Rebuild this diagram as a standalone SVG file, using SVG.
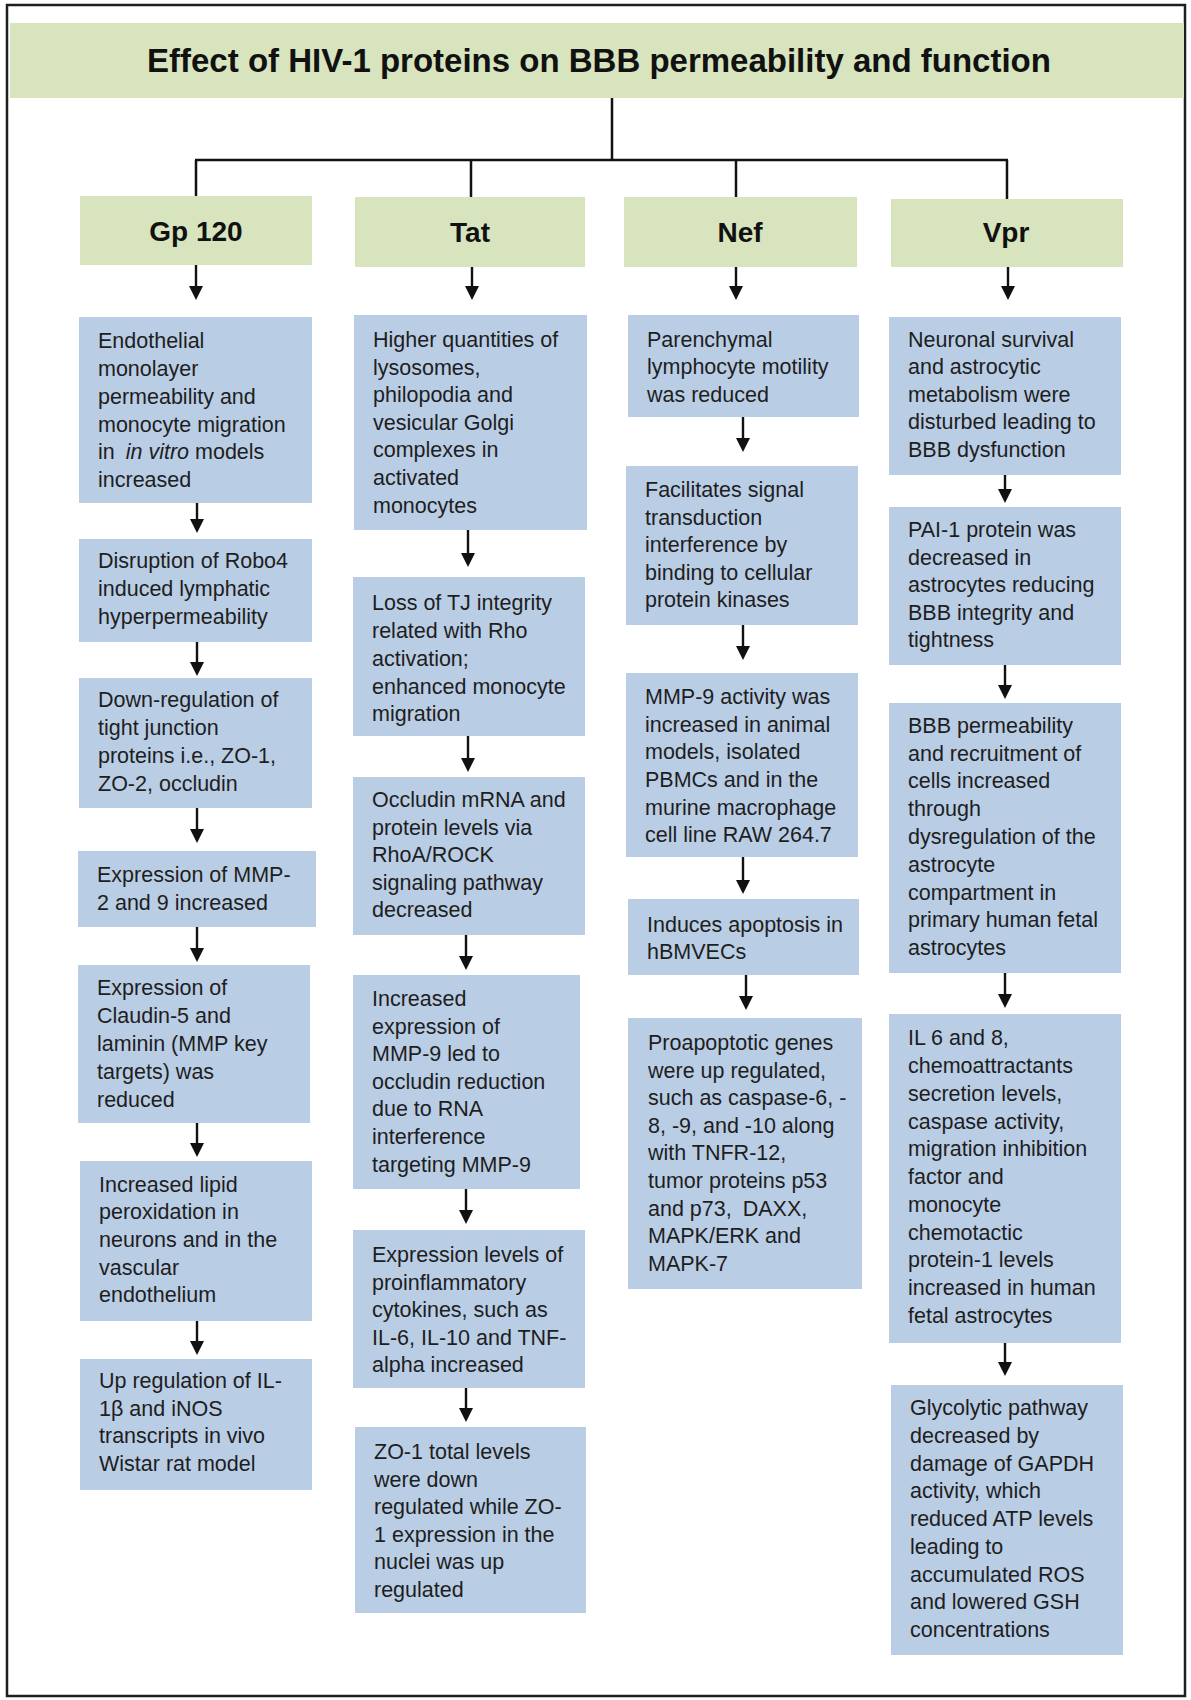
<svg xmlns="http://www.w3.org/2000/svg" width="1191" height="1700" viewBox="0 0 1191 1700">
<style>
.frame{fill:#ffffff;stroke:#1e1e1e;stroke-width:2.5}
.green{fill:#d7e4bd}
.blue{fill:#b9cde5}
.title{font-family:"Liberation Sans",Arial,sans-serif;font-weight:bold;font-size:33px;fill:#111;text-anchor:middle}
.head{font-family:"Liberation Sans",Arial,sans-serif;font-weight:bold;font-size:28px;fill:#111;text-anchor:middle}
.body{font-family:"Liberation Sans",Arial,sans-serif;font-size:21.5px;fill:#1e1e1e}
.tree{fill:none;stroke:#111;stroke-width:2.5}
.arr{fill:none;stroke:#111;stroke-width:2.4;marker-end:url(#ah)}
</style>
<defs>
<marker id="ah" markerUnits="userSpaceOnUse" markerWidth="14" markerHeight="14" refX="4" refY="7" orient="auto">
<path d="M0,0 L14,7 L0,14 z" fill="#111"/>
</marker>
</defs>
<rect class="frame" x="7" y="5" width="1178" height="1691"/>
<g id="title">
<rect class="green" x="10" y="23" width="1174" height="75"/>
<text class="title" x="599" y="72">Effect of HIV-1 proteins on BBB permeability and function</text>
</g>
<g id="connectors">
<path class="tree" d="M612,98 V160 M195,160 H1008 M196,160 V196 M471,160 V197 M736,160 V197 M1007,160 V199"/>
<path class="arr" d="M196,265 V290"/>
<path class="arr" d="M472,267 V290"/>
<path class="arr" d="M736,267 V290"/>
<path class="arr" d="M1008,267 V290"/>
<path class="arr" d="M197,503 V523"/>
<path class="arr" d="M197,642 V666"/>
<path class="arr" d="M197,808 V833"/>
<path class="arr" d="M197,927 V952"/>
<path class="arr" d="M197,1123 V1147"/>
<path class="arr" d="M197,1321 V1345"/>
<path class="arr" d="M468,530 V557"/>
<path class="arr" d="M468,736 V762"/>
<path class="arr" d="M466,935 V960"/>
<path class="arr" d="M466,1189 V1214"/>
<path class="arr" d="M466,1388 V1412"/>
<path class="arr" d="M743,417 V442"/>
<path class="arr" d="M743,625 V650"/>
<path class="arr" d="M743,857 V884"/>
<path class="arr" d="M746,975 V1000"/>
<path class="arr" d="M1005,475 V493"/>
<path class="arr" d="M1005,665 V689"/>
<path class="arr" d="M1005,973 V998"/>
<path class="arr" d="M1005,1343 V1366"/>
</g>
<g id="gp120">
<rect class="green" x="80" y="196" width="232" height="69"/>
<text class="head" x="196" y="241">Gp 120</text>
</g>
<g id="tat">
<rect class="green" x="355" y="197" width="230" height="70"/>
<text class="head" x="470" y="242">Tat</text>
</g>
<g id="nef">
<rect class="green" x="624" y="197" width="233" height="70"/>
<text class="head" x="740" y="242">Nef</text>
</g>
<g id="vpr">
<rect class="green" x="891" y="199" width="232" height="68"/>
<text class="head" x="1006" y="242">Vpr</text>
</g>
<g id="gp1">
<rect class="blue" x="79" y="317" width="233" height="186"/>
<text class="body"><tspan x="98" y="348">Endothelial</tspan><tspan x="98" y="376">monolayer</tspan><tspan x="98" y="404">permeability and</tspan><tspan x="98" y="432">monocyte migration</tspan><tspan x="98" y="459">in</tspan><tspan dx="11" font-style="italic">in vitro</tspan><tspan> models</tspan><tspan x="98" y="487">increased</tspan></text>
</g>
<g id="gp2">
<rect class="blue" x="79" y="539" width="233" height="103"/>
<text class="body"><tspan x="98" y="568">Disruption of Robo4</tspan><tspan x="98" y="596">induced lymphatic</tspan><tspan x="98" y="624">hyperpermeability</tspan></text>
</g>
<g id="gp3">
<rect class="blue" x="79" y="678" width="233" height="130"/>
<text class="body"><tspan x="98" y="707">Down-regulation of</tspan><tspan x="98" y="735">tight junction</tspan><tspan x="98" y="763">proteins i.e., ZO-1,</tspan><tspan x="98" y="791">ZO-2, occludin</tspan></text>
</g>
<g id="gp4">
<rect class="blue" x="78" y="851" width="238" height="76"/>
<text class="body"><tspan x="97" y="882">Expression of MMP-</tspan><tspan x="97" y="910">2 and 9 increased</tspan></text>
</g>
<g id="gp5">
<rect class="blue" x="78" y="965" width="232" height="158"/>
<text class="body"><tspan x="97" y="995">Expression of</tspan><tspan x="97" y="1023">Claudin-5 and</tspan><tspan x="97" y="1051">laminin (MMP key</tspan><tspan x="97" y="1079">targets) was</tspan><tspan x="97" y="1107">reduced</tspan></text>
</g>
<g id="gp6">
<rect class="blue" x="80" y="1161" width="232" height="160"/>
<text class="body"><tspan x="99" y="1192">Increased lipid</tspan><tspan x="99" y="1219">peroxidation in</tspan><tspan x="99" y="1247">neurons and in the</tspan><tspan x="99" y="1275">vascular</tspan><tspan x="99" y="1302">endothelium</tspan></text>
</g>
<g id="gp7">
<rect class="blue" x="80" y="1359" width="232" height="131"/>
<text class="body"><tspan x="99" y="1388">Up regulation of IL-</tspan><tspan x="99" y="1416">1β and iNOS</tspan><tspan x="99" y="1443">transcripts in vivo</tspan><tspan x="99" y="1471">Wistar rat model</tspan></text>
</g>
<g id="tat1">
<rect class="blue" x="354" y="315" width="233" height="215"/>
<text class="body"><tspan x="373" y="347">Higher quantities of</tspan><tspan x="373" y="375">lysosomes,</tspan><tspan x="373" y="402">philopodia and</tspan><tspan x="373" y="430">vesicular Golgi</tspan><tspan x="373" y="457">complexes in</tspan><tspan x="373" y="485">activated</tspan><tspan x="373" y="513">monocytes</tspan></text>
</g>
<g id="tat2">
<rect class="blue" x="353" y="577" width="232" height="159"/>
<text class="body"><tspan x="372" y="610">Loss of TJ integrity</tspan><tspan x="372" y="638">related with Rho</tspan><tspan x="372" y="666">activation;</tspan><tspan x="372" y="694">enhanced monocyte</tspan><tspan x="372" y="721">migration</tspan></text>
</g>
<g id="tat3">
<rect class="blue" x="353" y="777" width="232" height="158"/>
<text class="body"><tspan x="372" y="807">Occludin mRNA and</tspan><tspan x="372" y="835">protein levels via</tspan><tspan x="372" y="862">RhoA/ROCK</tspan><tspan x="372" y="890">signaling pathway</tspan><tspan x="372" y="917">decreased</tspan></text>
</g>
<g id="tat4">
<rect class="blue" x="353" y="975" width="227" height="214"/>
<text class="body"><tspan x="372" y="1006">Increased</tspan><tspan x="372" y="1034">expression of</tspan><tspan x="372" y="1061">MMP-9 led to</tspan><tspan x="372" y="1089">occludin reduction</tspan><tspan x="372" y="1116">due to RNA</tspan><tspan x="372" y="1144">interference</tspan><tspan x="372" y="1172">targeting MMP-9</tspan></text>
</g>
<g id="tat5">
<rect class="blue" x="353" y="1230" width="232" height="158"/>
<text class="body"><tspan x="372" y="1262">Expression levels of</tspan><tspan x="372" y="1290">proinflammatory</tspan><tspan x="372" y="1317">cytokines, such as</tspan><tspan x="372" y="1345">IL-6, IL-10 and TNF-</tspan><tspan x="372" y="1372">alpha increased</tspan></text>
</g>
<g id="tat6">
<rect class="blue" x="355" y="1427" width="231" height="186"/>
<text class="body"><tspan x="374" y="1459">ZO-1 total levels</tspan><tspan x="374" y="1487">were down</tspan><tspan x="374" y="1514">regulated while ZO-</tspan><tspan x="374" y="1542">1 expression in the</tspan><tspan x="374" y="1569">nuclei was up</tspan><tspan x="374" y="1597">regulated</tspan></text>
</g>
<g id="nef1">
<rect class="blue" x="628" y="315" width="231" height="102"/>
<text class="body"><tspan x="647" y="347">Parenchymal</tspan><tspan x="647" y="374">lymphocyte motility</tspan><tspan x="647" y="402">was reduced</tspan></text>
</g>
<g id="nef2">
<rect class="blue" x="626" y="466" width="232" height="159"/>
<text class="body"><tspan x="645" y="497">Facilitates signal</tspan><tspan x="645" y="525">transduction</tspan><tspan x="645" y="552">interference by</tspan><tspan x="645" y="580">binding to cellular</tspan><tspan x="645" y="607">protein kinases</tspan></text>
</g>
<g id="nef3">
<rect class="blue" x="626" y="673" width="232" height="184"/>
<text class="body"><tspan x="645" y="704">MMP-9 activity was</tspan><tspan x="645" y="732">increased in animal</tspan><tspan x="645" y="759">models, isolated</tspan><tspan x="645" y="787">PBMCs and in the</tspan><tspan x="645" y="815">murine macrophage</tspan><tspan x="645" y="842">cell line RAW 264.7</tspan></text>
</g>
<g id="nef4">
<rect class="blue" x="628" y="899" width="231" height="76"/>
<text class="body"><tspan x="647" y="932">Induces apoptosis in</tspan><tspan x="647" y="959">hBMVECs</tspan></text>
</g>
<g id="nef5">
<rect class="blue" x="628" y="1018" width="234" height="271"/>
<text class="body"><tspan x="648" y="1050">Proapoptotic genes</tspan><tspan x="648" y="1078">were up regulated,</tspan><tspan x="648" y="1105">such as caspase-6, -</tspan><tspan x="648" y="1133">8, -9, and -10 along</tspan><tspan x="648" y="1160">with TNFR-12,</tspan><tspan x="648" y="1188">tumor proteins p53</tspan><tspan x="648" y="1216">and p73,</tspan><tspan dx="11">DAXX,</tspan><tspan x="648" y="1243">MAPK/ERK and</tspan><tspan x="648" y="1271">MAPK-7</tspan></text>
</g>
<g id="vpr1">
<rect class="blue" x="889" y="317" width="232" height="158"/>
<text class="body"><tspan x="908" y="347">Neuronal survival</tspan><tspan x="908" y="374">and astrocytic</tspan><tspan x="908" y="402">metabolism were</tspan><tspan x="908" y="429">disturbed leading to</tspan><tspan x="908" y="457">BBB dysfunction</tspan></text>
</g>
<g id="vpr2">
<rect class="blue" x="889" y="507" width="232" height="158"/>
<text class="body"><tspan x="908" y="537">PAI-1 protein was</tspan><tspan x="908" y="565">decreased in</tspan><tspan x="908" y="592">astrocytes reducing</tspan><tspan x="908" y="620">BBB integrity and</tspan><tspan x="908" y="647">tightness</tspan></text>
</g>
<g id="vpr3">
<rect class="blue" x="889" y="703" width="232" height="270"/>
<text class="body"><tspan x="908" y="733">BBB permeability</tspan><tspan x="908" y="761">and recruitment of</tspan><tspan x="908" y="788">cells increased</tspan><tspan x="908" y="816">through</tspan><tspan x="908" y="844">dysregulation of the</tspan><tspan x="908" y="872">astrocyte</tspan><tspan x="908" y="900">compartment in</tspan><tspan x="908" y="927">primary human fetal</tspan><tspan x="908" y="955">astrocytes</tspan></text>
</g>
<g id="vpr4">
<rect class="blue" x="889" y="1014" width="232" height="329"/>
<text class="body"><tspan x="908" y="1045">IL 6 and 8,</tspan><tspan x="908" y="1073">chemoattractants</tspan><tspan x="908" y="1101">secretion levels,</tspan><tspan x="908" y="1129">caspase activity,</tspan><tspan x="908" y="1156">migration inhibition</tspan><tspan x="908" y="1184">factor and</tspan><tspan x="908" y="1212">monocyte</tspan><tspan x="908" y="1240">chemotactic</tspan><tspan x="908" y="1267">protein-1 levels</tspan><tspan x="908" y="1295">increased in human</tspan><tspan x="908" y="1323">fetal astrocytes</tspan></text>
</g>
<g id="vpr5">
<rect class="blue" x="891" y="1385" width="232" height="270"/>
<text class="body"><tspan x="910" y="1415">Glycolytic pathway</tspan><tspan x="910" y="1443">decreased by</tspan><tspan x="910" y="1471">damage of GAPDH</tspan><tspan x="910" y="1498">activity, which</tspan><tspan x="910" y="1526">reduced ATP levels</tspan><tspan x="910" y="1554">leading to</tspan><tspan x="910" y="1582">accumulated ROS</tspan><tspan x="910" y="1609">and lowered GSH</tspan><tspan x="910" y="1637">concentrations</tspan></text>
</g>
</svg>
